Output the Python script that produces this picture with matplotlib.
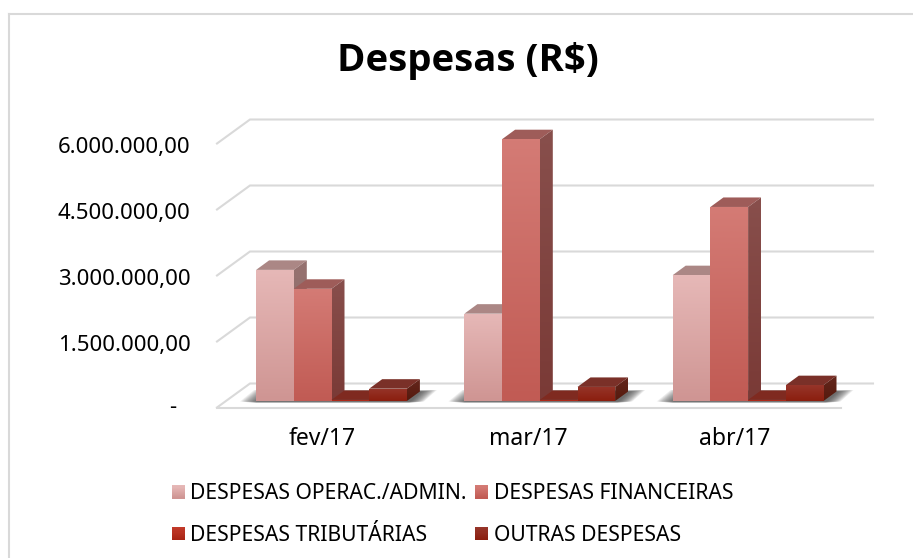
import numpy as np
import matplotlib
matplotlib.use("Agg")
import matplotlib.pyplot as plt
from matplotlib.patches import Polygon, Rectangle, Patch
from matplotlib.legend_handler import HandlerBase
from matplotlib.lines import Line2D
from matplotlib.colors import to_rgb

# ---- data ----
categories = ["fev/17", "mar/17", "abr/17"]
series_names = ["DESPESAS OPERAC./ADMIN.", "DESPESAS FINANCEIRAS",
                "DESPESAS TRIBUTÁRIAS", "OUTRAS DESPESAS"]
operac = [2980000, 1985000, 2860000]
financ = [2550000, 5950000, 4410000]
tribut = [25000, 25000, 25000]
outras = [280000, 320000, 360000]
y_ticks = [0, 1500000, 3000000, 4500000, 6000000]
y_tick_labels = ["-", "1.500.000,00", "3.000.000,00", "4.500.000,00", "6.000.000,00"]

# style: (front top, front bottom, top face, side top, side bottom)
styles = [
    ("#E6B8B7", "#CF9593", "#AB8785", "#967270", "#8E6A68"),
    ("#D47B75", "#C15B54", "#9E5C59", "#884F4C", "#7A3A36"),
    ("#C23A2A", "#A82414", "#7F2A20", "#6E2015", "#5E1A10"),
    ("#96352A", "#8B1E0E", "#7A3028", "#64261C", "#551A0E"),
]
FONT = ["Noto Sans", "DejaVu Sans"]
W, H = 913, 558
plt.rcParams["font.family"] = FONT
fig = plt.figure(figsize=(W / 100, H / 100), dpi=100, facecolor="white")

# axes covers the plot box in pixels
L, R, T, B = 217, 873, 119, 407.5
ax = fig.add_axes([L / W, 1 - B / H, (R - L) / W, (B - T) / H])
ax.patch.set_visible(False)
for s in ax.spines.values():
    s.set_visible(False)

PX_X = 208.3          # pixels per category
PX_Y = 264 / 6000000  # pixels per currency unit
BASE_PX = 401         # bar base pixel
CAT0_PX = 331.5
ax.set_xlim((L - CAT0_PX) / PX_X, (R - CAT0_PX) / PX_X)
ax.set_ylim((BASE_PX - B) / PX_Y, (BASE_PX - T) / PX_Y)
xpx = 1 / PX_X
ypx = 1 / PX_Y
x_lim = ax.get_xlim()

# gridlines + floor
grid_c = "#D9D9D9"
for v in y_ticks:
    yf = v - 6.5 * ypx
    yb = v + 17.5 * ypx
    xl = x_lim[0]
    xb = xl + 33 * xpx
    ax.plot([xl, xb, x_lim[1]], [yf, yb, yb], color=grid_c, lw=1.5,
            solid_joinstyle="miter", zorder=1, clip_on=False)
ax.plot([x_lim[0], x_lim[1] - 32 * xpx], [y_ticks[0] - 6.5 * ypx] * 2, color=grid_c, lw=1.5,
        zorder=1, clip_on=False)


def grad(verts, c_top, c_bot, zorder):
    verts = np.array(verts)
    x0, x1 = verts[:, 0].min(), verts[:, 0].max()
    y0, y1 = verts[:, 1].min(), verts[:, 1].max()
    t = np.linspace(0, 1, 64)[:, None, None]
    img = (1 - t) * np.array(to_rgb(c_top))[None, None, :] + t * np.array(to_rgb(c_bot))[None, None, :]
    im = ax.imshow(img, extent=(x0, x1, y0, y1), origin="upper", aspect="auto",
                   zorder=zorder, interpolation="bilinear")
    poly = Polygon(verts, closed=True, transform=ax.transData, fc="none", ec="none")
    ax.add_patch(poly)
    im.set_clip_path(poly)


series = [operac, financ, tribut, outras]
bw = 37.7 * xpx
ddx = 13 * xpx
ddy = 9.5 * ypx

# floor shadows (soft, built from nested translucent shapes)
for i in range(len(categories)):
    left = i - 2 * bw
    right = i + 2 * bw
    for g in np.linspace(15, 0, 14):
        lift = g * 0.1
        pts = [(left - (1 + g) * xpx, -(2 - lift) * ypx), (right + (2 + g) * xpx, -(2 - lift) * ypx),
               (right + (15 + g) * xpx, ddy + lift * ypx), (left + (13 - g) * xpx, ddy + lift * ypx)]
        ax.add_patch(Polygon(pts, closed=True, fc="#3A3A3A", ec="none", alpha=0.085, zorder=2))

z = 3
for k, vals in enumerate(series):
    c = styles[k]
    for i, v in enumerate(vals):
        x0 = i + (k - 2) * bw
        x1 = x0 + bw
        ax.add_patch(Polygon([(x0, v), (x1, v), (x1 + ddx, v + ddy), (x0 + ddx, v + ddy)],
                             closed=True, fc=c[2], ec="none", zorder=z))
        grad([(x1, 0), (x1 + ddx, ddy), (x1 + ddx, v + ddy), (x1, v)], c[3], c[4], z)
        grad([(x0, 0), (x1, 0), (x1, v), (x0, v)], c[0], c[1], z + 0.5)
    z += 1

# ticks (category labels sit on the front plane, which is narrower than the back)
ax.set_xticks([i - (9.5 + 1.75 * i) * xpx for i in range(3)], categories)
ax.set_yticks([v - 8.5 * ypx for v in y_ticks], y_tick_labels)
ax.set_xlim(*x_lim)
ax.set_ylim((BASE_PX - B) / PX_Y, (BASE_PX - T) / PX_Y)
ax.tick_params(axis="x", length=0, labelsize=16.5, colors="black", pad=14)
ax.tick_params(axis="y", length=0, labelsize=16, colors="black", pad=19)
ax.yaxis.get_major_ticks()[0].label1.set_visible(False)
# the lowest tick sits just under the axes limit, so its "-" is placed as plain axis-anchored text
ax.annotate(y_tick_labels[0], xy=(0, 0), xycoords=("axes fraction", "data"),
            xytext=(-44, -6), textcoords="offset pixels", ha="center", va="center",
            fontsize=16, color="black", annotation_clip=False)

fig.text(468 / W, 1 - 61 / H, "Despesas (R$)", ha="center", va="center",
         fontsize=27.6, fontweight="bold", color="black", family=["Open Sans", "DejaVu Sans"])


class GradHandler(HandlerBase):
    def __init__(self, top, bottom):
        super().__init__()
        self.top, self.bottom = to_rgb(top), to_rgb(bottom)

    def create_artists(self, legend, orig, xd, yd, width, height, fontsize, trans):
        out = []
        n = 12
        size = 13 * 0.72
        y0 = -yd + height / 2 - size / 2
        for j in range(n):
            t = j / (n - 1)
            col = tuple((1 - t) * a + t * b for a, b in zip(self.top, self.bottom))
            out.append(Rectangle((-xd, y0 + size * (1 - (j + 1) / n)), width, size / n + 0.1,
                                 fc=col, ec="none", transform=trans))
        return out


# legend fills by column, so list it to read across rows as in the picture
handles = [Patch(label=series_names[k]) for k in range(4)]
hmap = {h: GradHandler(styles[k][0], styles[k][1]) for k, h in enumerate(handles)}
ordered = [handles[0], handles[2], handles[1], handles[3]]
leg = fig.legend(handles=ordered, handler_map=hmap, ncols=2, loc="lower left",
                 bbox_to_anchor=(172 / W, 1 - 546 / H), bbox_transform=fig.transFigure,
                 frameon=False, fontsize=15.2, handlelength=0.62, handletextpad=0.25,
                 columnspacing=0.4, labelspacing=0.95, borderpad=0, borderaxespad=0,
                 handleheight=1)

fig.add_artist(Line2D([9 / W, 9 / W], [0, 1 - 14 / H], color=grid_c, lw=1.5, transform=fig.transFigure))
fig.add_artist(Line2D([9 / W, 1], [1 - 14 / H, 1 - 14 / H], color=grid_c, lw=1.5, transform=fig.transFigure))

fig.savefig("out.png", dpi=100, facecolor="white")
